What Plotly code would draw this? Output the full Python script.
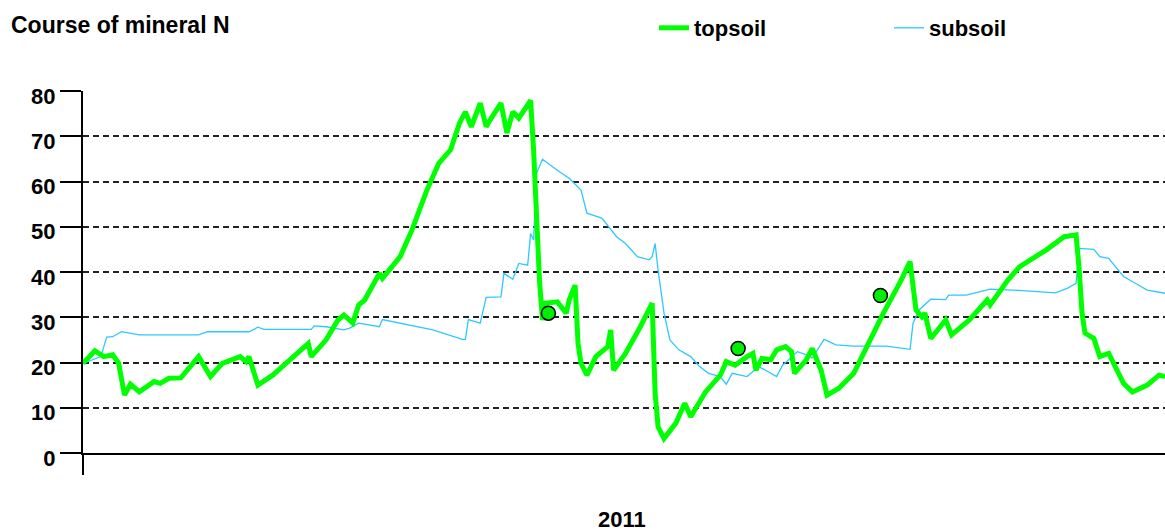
import plotly.graph_objects as go

# ---- data (day of year 2011, mineral N) ----
top_days = [0, 4, 7, 10, 12, 14, 16, 19, 24, 26, 29, 33, 39, 43, 47, 53, 55, 56, 59, 64,
            76, 77, 82, 86, 88, 91, 93, 95, 100, 101, 107, 111, 116, 120, 124, 127, 129, 131,
            134, 136, 138, 141, 143, 145, 147, 151, 152, 153, 154, 155, 156, 160, 163, 164,
            166, 167, 168, 170, 173, 177, 178, 179, 183, 188, 191, 192, 193, 194, 196, 200,
            203, 205, 210, 215, 217, 220, 224, 226, 227, 229, 232, 234, 237, 239, 240, 244,
            246, 249, 251, 255, 260, 265, 270, 276, 279, 281, 283, 284, 286, 291, 293, 299,
            305, 306, 312, 316, 325, 331, 335, 336, 337, 338, 341, 343, 346, 351, 354, 359,
            363, 365]
top_vals = [19.8, 22.6, 21.3, 21.7, 19.9, 12.8, 15.2, 13.5, 15.8, 15.4, 16.5, 16.6, 21.3, 16.9,
            19.8, 21.3, 20.2, 21.3, 15.0, 17.2, 24.2, 21.3, 25.0, 29.4, 30.5, 28.7, 32.7, 33.8,
            39.7, 38.6, 43.4, 49.3, 58.1, 64.0, 67.0, 72.9, 75.4, 72.1, 77.3, 72.1, 74.3, 77.3,
            70.7, 75.4, 74.0, 77.9, 67.0, 52.0, 38.0, 29.4, 33.1, 33.4, 30.9, 33.8, 37.1, 24.2,
            19.8, 17.2, 21.3, 23.5, 27.2, 18.3, 22.0, 27.9, 32.3, 33.1, 13.2, 5.8, 3.2, 6.6,
            11.0, 8.0, 13.5, 17.2, 20.2, 19.4, 21.3, 22.0, 18.3, 20.9, 20.6, 22.8, 23.5, 22.4,
            17.6, 20.6, 23.1, 18.3, 12.8, 14.3, 17.6, 24.2, 30.9, 38.2, 42.3, 31.6, 30.1, 30.9,
            25.3, 29.4, 26.1, 29.4, 33.8, 32.7, 38.2, 41.2, 44.9, 47.8, 48.2, 41.0, 31.0, 26.5,
            25.3, 21.3, 22.0, 15.4, 13.5, 15.0, 17.2, 16.9]

sub_days = [0, 6, 8, 10, 13, 19, 39, 42, 56, 59, 61, 77, 78, 82, 88, 90, 93, 100, 101, 107,
            118, 128, 129, 130, 134, 136, 141, 142, 145, 147, 150, 151, 152, 153, 155, 160,
            164, 168, 170, 175, 180, 183, 187, 191, 192, 193, 194, 196, 198, 201, 205, 208,
            211, 215, 217, 219, 224, 228, 234, 236, 241, 244, 246, 250, 254, 260, 271, 279,
            280, 281, 282, 286, 291, 292, 298, 306, 317, 328, 332, 335, 336, 341, 343, 346,
            351, 355, 359, 365]
sub_vals = [19.8, 21.3, 25.6, 25.7, 26.8, 26.1, 26.1, 26.8, 26.8, 27.8, 27.3, 27.3, 28.1, 27.9,
            27.2, 27.6, 28.7, 27.9, 29.5, 28.7, 27.2, 25.1, 25.1, 29.5, 28.7, 34.4, 34.5, 39.7,
            38.4, 41.9, 41.5, 48.5, 47.1, 61.8, 64.9, 62.5, 60.7, 58.1, 53.0, 51.9, 47.8, 46.3,
            43.4, 42.7, 43.4, 46.3, 40.4, 30.9, 25.0, 22.8, 21.3, 19.1, 17.6, 16.9, 15.2, 17.6,
            16.9, 19.1, 16.9, 19.4, 22.4, 21.7, 21.0, 25.1, 23.9, 23.6, 23.6, 22.9, 28.7, 30.1,
            31.6, 34.0, 33.9, 34.9, 34.9, 36.2, 35.9, 35.4, 36.4, 37.5, 45.2, 45.0, 43.4, 43.0,
            39.0, 37.5, 36.0, 35.3]

meas_days = [157, 221, 269]
meas_vals = [30.9, 23.1, 34.8]

y_ticks = [0, 10, 20, 30, 40, 50, 60, 70, 80]
title_text = "Course of mineral N"
year_label = "2011"

FONT = "Liberation Sans, Arial, sans-serif"
W, H = 1165, 531
ML, MR, MT, MB = 83, 0, 91, 78
PH = H - MT - MB
PW = W - ML - MR

fig = go.Figure()
fig.add_trace(go.Scatter(x=sub_days, y=sub_vals, mode="lines", name="subsoil",
                         line=dict(color="#2EC8FF", width=1.3), legendrank=2))
fig.add_trace(go.Scatter(x=top_days, y=top_vals, mode="lines", name="topsoil",
                         line=dict(color="#00FF00", width=5), legendrank=1))
fig.add_trace(go.Scatter(x=meas_days, y=meas_vals, mode="markers", showlegend=False,
                         marker=dict(color="#00EE00", size=14, line=dict(color="#000", width=1.5))))

fig.update_layout(
    width=W, height=H,
    margin=dict(l=ML, r=MR, t=MT, b=MB, pad=0),
    paper_bgcolor="white", plot_bgcolor="white",
    font=dict(family=FONT, size=22, color="#000", weight="bold"),
    title=dict(text=title_text, x=11 / W, xref="container", xanchor="left",
               y=1 - 25 / H, yref="container", yanchor="middle",
               font=dict(family=FONT, size=23, color="#000", weight="bold")),
    legend=dict(orientation="h", x=(654 - ML) / PW, xanchor="left",
                y=(H - MB - 28) / PH, yanchor="middle", traceorder="normal",
                entrywidth=190, entrywidthmode="pixels",
                font=dict(family=FONT, size=22, color="#000", weight="bold"),
                bgcolor="rgba(0,0,0,0)"),
    showlegend=True,
)
fig.update_xaxes(range=[0, 365], showgrid=False, zeroline=False, showticklabels=False,
                 ticks="", showline=True, linecolor="#000", linewidth=2)
fig.update_yaxes(range=[0, 80], tickvals=y_ticks, ticks="outside", ticklen=21, tickwidth=2,
                 tickcolor="#000", showline=True, linecolor="#000", linewidth=2,
                 showgrid=True, gridcolor="#222", gridwidth=2, griddash="6px,4px",
                 zeroline=False, ticklabelshift=5,
                 tickfont=dict(family=FONT, size=22, color="#000", weight="bold"))

# extension of the y axis line below the x axis
fig.add_shape(type="line", xref="paper", yref="paper", x0=0, x1=0, y0=0, y1=-22 / PH,
              line=dict(color="#000", width=2))

fig.add_annotation(text=year_label, xref="paper", yref="paper",
                   x=(622 - ML) / PW, y=(-(519 - (H - MB))) / PH,
                   xanchor="center", yanchor="middle", showarrow=False,
                   font=dict(family=FONT, size=22, color="#000", weight="bold"))

fig.write_html("out.html", config={"displayModeBar": False},
               post_script="document.body.style.margin='0';")
